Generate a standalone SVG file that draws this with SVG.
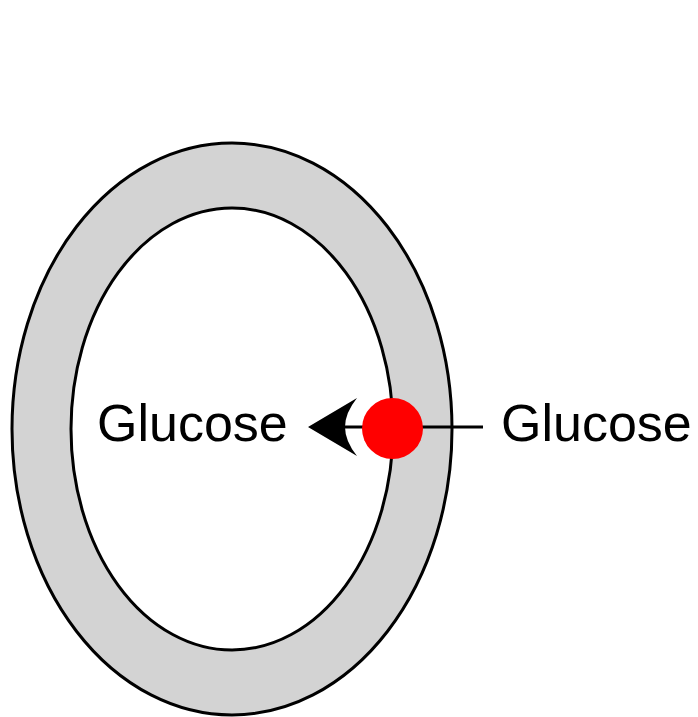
<svg xmlns="http://www.w3.org/2000/svg" width="698" height="717" viewBox="0 0 698 717">
<style>
.ring{fill:#d3d3d3;stroke:#000;stroke-width:3}
.inner{fill:#fff;stroke:#000;stroke-width:3}
.lbl{font-family:"Liberation Sans",Arial,sans-serif;font-size:52px;fill:#000}
.conn{stroke:#000;stroke-width:3;fill:none}
</style>
<rect width="698" height="717" fill="#fff"/>
<g id="cell">
<ellipse class="ring" cx="232" cy="429" rx="220" ry="286"/>
<ellipse class="inner" cx="232" cy="429" rx="161" ry="221"/>
</g>
<g id="connectors">
<line class="conn" x1="483" y1="427" x2="340" y2="427"/>
<path d="M308,427 L357,398 Q345,413 345,427 Q345,441 357,456 Z" fill="#000"/>
</g>
<g id="transporter">
<circle cx="392.5" cy="428.5" r="30.5" fill="#ff0000"/>
</g>
<g id="glucose-inside">
<text class="lbl" x="97" y="441">Glucose</text>
</g>
<g id="glucose-outside">
<text class="lbl" x="501" y="441">Glucose</text>
</g>
</svg>
